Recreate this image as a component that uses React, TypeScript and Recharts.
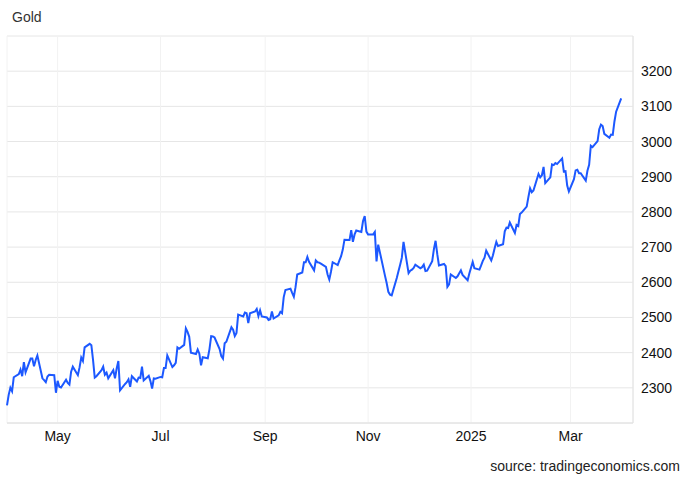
import { CartesianGrid, Line, LineChart, XAxis, YAxis } from 'recharts';

const dates = [
  '2024-04-01', '2024-04-02', '2024-04-03', '2024-04-04', '2024-04-05', '2024-04-08', '2024-04-09', '2024-04-10',
  '2024-04-11', '2024-04-12', '2024-04-15', '2024-04-16', '2024-04-17', '2024-04-18', '2024-04-19', '2024-04-22',
  '2024-04-23', '2024-04-24', '2024-04-25', '2024-04-26', '2024-04-29', '2024-04-30', '2024-05-01', '2024-05-02',
  '2024-05-03', '2024-05-06', '2024-05-07', '2024-05-08', '2024-05-09', '2024-05-10', '2024-05-13', '2024-05-14',
  '2024-05-15', '2024-05-16', '2024-05-17', '2024-05-20', '2024-05-21', '2024-05-22', '2024-05-23', '2024-05-24',
  '2024-05-27', '2024-05-28', '2024-05-29', '2024-05-30', '2024-05-31', '2024-06-03', '2024-06-04', '2024-06-05',
  '2024-06-06', '2024-06-07', '2024-06-10', '2024-06-11', '2024-06-12', '2024-06-13', '2024-06-14', '2024-06-17',
  '2024-06-18', '2024-06-19', '2024-06-20', '2024-06-21', '2024-06-24', '2024-06-25', '2024-06-26', '2024-06-27',
  '2024-06-28', '2024-07-01', '2024-07-02', '2024-07-03', '2024-07-04', '2024-07-05', '2024-07-08', '2024-07-09',
  '2024-07-10', '2024-07-11', '2024-07-12', '2024-07-15', '2024-07-16', '2024-07-17', '2024-07-18', '2024-07-19',
  '2024-07-22', '2024-07-23', '2024-07-24', '2024-07-25', '2024-07-26', '2024-07-29', '2024-07-30', '2024-07-31',
  '2024-08-01', '2024-08-02', '2024-08-05', '2024-08-06', '2024-08-07', '2024-08-08', '2024-08-09', '2024-08-12',
  '2024-08-13', '2024-08-14', '2024-08-15', '2024-08-16', '2024-08-19', '2024-08-20', '2024-08-21', '2024-08-22',
  '2024-08-23', '2024-08-26', '2024-08-27', '2024-08-28', '2024-08-29', '2024-08-30', '2024-09-02', '2024-09-03',
  '2024-09-04', '2024-09-05', '2024-09-06', '2024-09-09', '2024-09-10', '2024-09-11', '2024-09-12', '2024-09-13',
  '2024-09-16', '2024-09-17', '2024-09-18', '2024-09-19', '2024-09-20', '2024-09-23', '2024-09-24', '2024-09-25',
  '2024-09-26', '2024-09-27', '2024-09-30', '2024-10-01', '2024-10-02', '2024-10-03', '2024-10-04', '2024-10-07',
  '2024-10-08', '2024-10-09', '2024-10-10', '2024-10-11', '2024-10-14', '2024-10-15', '2024-10-16', '2024-10-17',
  '2024-10-18', '2024-10-21', '2024-10-22', '2024-10-23', '2024-10-24', '2024-10-25', '2024-10-28', '2024-10-29',
  '2024-10-30', '2024-10-31', '2024-11-01', '2024-11-04', '2024-11-05', '2024-11-06', '2024-11-07', '2024-11-08',
  '2024-11-11', '2024-11-12', '2024-11-13', '2024-11-14', '2024-11-15', '2024-11-18', '2024-11-19', '2024-11-20',
  '2024-11-21', '2024-11-22', '2024-11-25', '2024-11-26', '2024-11-27', '2024-11-28', '2024-11-29', '2024-12-02',
  '2024-12-03', '2024-12-04', '2024-12-05', '2024-12-06', '2024-12-09', '2024-12-10', '2024-12-11', '2024-12-12',
  '2024-12-13', '2024-12-16', '2024-12-17', '2024-12-18', '2024-12-19', '2024-12-20', '2024-12-23', '2024-12-24',
  '2024-12-26', '2024-12-27', '2024-12-30', '2024-12-31', '2025-01-02', '2025-01-03', '2025-01-06', '2025-01-07',
  '2025-01-08', '2025-01-09', '2025-01-10', '2025-01-13', '2025-01-14', '2025-01-15', '2025-01-16', '2025-01-17',
  '2025-01-20', '2025-01-21', '2025-01-22', '2025-01-23', '2025-01-24', '2025-01-27', '2025-01-28', '2025-01-29',
  '2025-01-30', '2025-01-31', '2025-02-03', '2025-02-04', '2025-02-05', '2025-02-06', '2025-02-07', '2025-02-10',
  '2025-02-11', '2025-02-12', '2025-02-13', '2025-02-14', '2025-02-17', '2025-02-18', '2025-02-19', '2025-02-20',
  '2025-02-21', '2025-02-24', '2025-02-25', '2025-02-26', '2025-02-27', '2025-02-28', '2025-03-03', '2025-03-04',
  '2025-03-05', '2025-03-06', '2025-03-07', '2025-03-10', '2025-03-11', '2025-03-12', '2025-03-13', '2025-03-14',
  '2025-03-17', '2025-03-18', '2025-03-19', '2025-03-20', '2025-03-21', '2025-03-24', '2025-03-25', '2025-03-26',
  '2025-03-27', '2025-03-28', '2025-03-31',
];

const prices = [
  2250, 2280, 2300, 2290, 2330, 2339, 2352, 2333,
  2373, 2344, 2383, 2383, 2361, 2379, 2392, 2327,
  2322, 2316, 2332, 2337, 2336, 2286, 2320, 2303,
  2301, 2323, 2314, 2309, 2346, 2360, 2336, 2358,
  2386, 2376, 2415, 2425, 2421, 2379, 2329, 2333,
  2350, 2360, 2337, 2343, 2327, 2350, 2327, 2355,
  2376, 2293, 2311, 2316, 2324, 2303, 2333, 2318,
  2329, 2328, 2360, 2321, 2334, 2319, 2298, 2327,
  2326, 2331, 2330, 2356, 2356, 2392, 2359, 2364,
  2371, 2415, 2411, 2422, 2469, 2459, 2445, 2400,
  2396, 2409, 2397, 2364, 2387, 2384, 2410, 2447,
  2446, 2443, 2410, 2390, 2383, 2427, 2431, 2472,
  2465, 2447, 2456, 2508, 2503, 2514, 2512, 2484,
  2512, 2517, 2524, 2504, 2520, 2503, 2500, 2493,
  2495, 2517, 2497, 2506, 2516, 2512, 2558, 2578,
  2582, 2570, 2559, 2586, 2622, 2628, 2657, 2657,
  2672, 2658, 2634, 2662, 2657, 2656, 2653, 2644,
  2622, 2608, 2630, 2657, 2649, 2662, 2674, 2693,
  2721, 2720, 2748, 2715, 2736, 2747, 2743, 2774,
  2788, 2744, 2736, 2736, 2743, 2659, 2707, 2685,
  2619, 2598, 2573, 2565, 2563, 2612, 2631, 2650,
  2670, 2715, 2626, 2633, 2636, 2641, 2650, 2640,
  2643, 2650, 2632, 2633, 2660, 2694, 2718, 2680,
  2648, 2652, 2646, 2587, 2594, 2622, 2612, 2617,
  2634, 2621, 2606, 2625, 2658, 2640, 2636, 2648,
  2661, 2670, 2690, 2662, 2677, 2697, 2715, 2703,
  2708, 2745, 2755, 2754, 2770, 2740, 2763, 2760,
  2794, 2798, 2815, 2842, 2867, 2856, 2861, 2908,
  2898, 2904, 2928, 2882, 2898, 2935, 2933, 2939,
  2936, 2952, 2915, 2916, 2875, 2858, 2893, 2918,
  2920, 2910, 2910, 2889, 2917, 2934, 2988, 2984,
  3001, 3035, 3048, 3044, 3022, 3011, 3020, 3019,
  3057, 3085, 3123,
];

const tickDates = ['2024-05-01', '2024-07-01', '2024-09-01', '2024-11-01', '2025-01-01', '2025-03-01'];
const tickLabels = ['May', 'Jul', 'Sep', 'Nov', '2025', 'Mar'];
const priceTicks = [2200, 2300, 2400, 2500, 2600, 2700, 2800, 2900, 3000, 3100, 3200, 3300];

const origin = Date.UTC(2024, 3, 1);
const toDay = (s: string) => {
  const [y, m, d] = s.split('-').map(Number);
  return (Date.UTC(y, m - 1, d) - origin) / 86400000;
};

const data = dates.map((d, i) => ({ day: toDay(d), price: prices[i] }));
const xTicks = tickDates.map(toDay);

const font = '"Liberation Sans", Arial, sans-serif';

export default function App() {
  return (
    <div
      style={{
        position: 'fixed',
        left: 0,
        top: 0,
        width: 690,
        height: 478,
        background: '#fff',
        fontFamily: font,
      }}
    >
      <div style={{ position: 'absolute', left: 12, top: 8, fontSize: 14, lineHeight: '18px', color: '#333' }}>
        Gold
      </div>
      <LineChart width={690} height={478} data={data} margin={{ top: 36, right: 0, left: 7, bottom: 25 }}>
        <CartesianGrid stroke="#e6e6e6" vertical={false} />
        <CartesianGrid stroke="#f2f2f2" horizontal={false} />
        <XAxis
          dataKey="day"
          type="number"
          domain={[0, 371]}
          ticks={xTicks}
          tickFormatter={(v: number) => tickLabels[xTicks.indexOf(v)] ?? ''}
          tickLine={false}
          axisLine={{ stroke: '#e0e0e0' }}
          height={30}
          tick={{ fill: '#111', fontSize: 14, fontFamily: font }}
          interval={0}
        />
        <YAxis
          orientation="right"
          type="number"
          domain={[2200, 3300]}
          ticks={priceTicks}
          tickFormatter={(v: number) => (v === 2200 || v === 3300 ? '' : String(v))}
          tickLine={false}
          axisLine={{ stroke: '#e0e0e0' }}
          width={57}
          tick={{ fill: '#111', fontSize: 14, fontFamily: font }}
          interval={0}
        />
        <Line
          type="linear"
          dataKey="price"
          stroke="#1c58ff"
          strokeWidth={2}
          dot={false}
          isAnimationActive={false}
        />
      </LineChart>
      <div
        style={{
          position: 'absolute',
          right: 10,
          top: 457,
          fontSize: 14,
          lineHeight: '18px',
          color: '#222',
        }}
      >
        source: tradingeconomics.com
      </div>
    </div>
  );
}
